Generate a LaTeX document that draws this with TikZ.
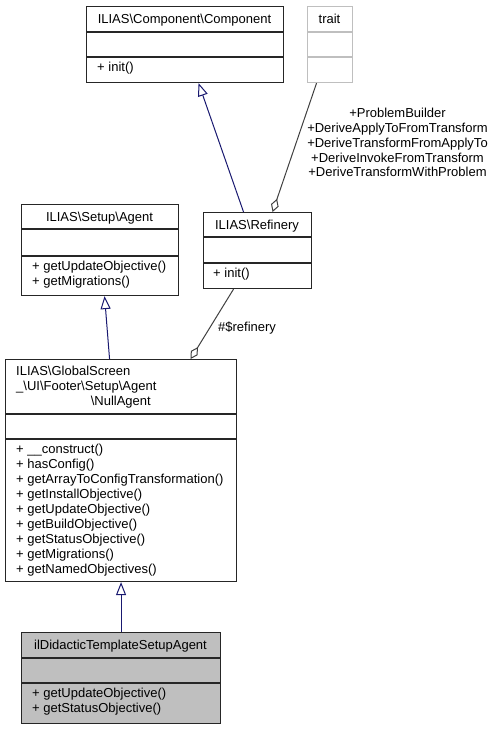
\documentclass[tikz,border=0pt]{standalone}
\usepackage{fontspec}
\setmainfont{Liberation Sans}
\usetikzlibrary{shapes,shapes.multipart,calc,arrows.meta}
\definecolor{edgeblue}{HTML}{191970}
\definecolor{edgegrey}{HTML}{404040}
\definecolor{classgrey}{HTML}{BFBFBF}
\tikzset{
  classbox/.style = {draw=black!85, line width=1.1pt, inner sep=0pt, anchor=north west},
  divider/.style = {draw=black!85, line width=1.1pt},
  classname/.style = {inner sep=0pt, anchor=base, font=\fontsize{13}{15}\selectfont},
  members/.style = {inner sep=0pt, anchor=north west, align=left, font=\fontsize{13}{15}\selectfont},
  inherit/.style = {edgeblue, line width=1pt, -{Triangle[open, length=13pt, width=10pt]}},
  aggreg/.style = {edgegrey, line width=1pt, {Diamond[open, length=14pt, width=8pt]}-},
  edgelabel/.style = {inner sep=0pt, align=center, font=\fontsize{13}{14.75}\selectfont}
}

\begin{document}
\begin{tikzpicture}[x=1pt, y=-1pt]
	\useasboundingbox (0,0) rectangle (495,729);

	% ILIAS\Component\Component
	\node [classbox, minimum width=197pt, minimum height=76pt] (comp) at (86,6) {};
	\draw [divider] ([yshift=-26pt]comp.north west) -- ([yshift=-26pt]comp.north east);
	\draw [divider] ([yshift=-51pt]comp.north west) -- ([yshift=-51pt]comp.north east);
	\node [classname] (comp-name) at (184.5,23) {ILIAS\textbackslash Component\textbackslash Component};
	\node [members] (comp-ops) at (97,61.5) {+ init()};

	% trait
	\node [classbox, draw=classgrey, minimum width=45pt, minimum height=76pt] (trait) at (307,6) {};
	\draw [divider, draw=classgrey] ([yshift=-26pt]trait.north west) -- ([yshift=-26pt]trait.north east);
	\draw [divider, draw=classgrey] ([yshift=-51pt]trait.north west) -- ([yshift=-51pt]trait.north east);
	\node [classname] (trait-name) at (329.5,23) {trait};

	% ILIAS\Refinery
	\node [classbox, minimum width=108pt, minimum height=76pt] (refinery) at (203,212) {};
	\draw [divider] ([yshift=-25pt]refinery.north west) -- ([yshift=-25pt]refinery.north east);
	\draw [divider] ([yshift=-51pt]refinery.north west) -- ([yshift=-51pt]refinery.north east);
	\node [classname] (refinery-name) at (257,229) {ILIAS\textbackslash Refinery};
	\node [members] (refinery-ops) at (213,268) {+ init()};

	% ILIAS\Setup\Agent
	\node [classbox, minimum width=157pt, minimum height=91pt] (agent) at (21,204) {};
	\draw [divider] ([yshift=-25pt]agent.north west) -- ([yshift=-25pt]agent.north east);
	\draw [divider] ([yshift=-52pt]agent.north west) -- ([yshift=-52pt]agent.north east);
	\node [classname] (agent-name) at (99.5,221) {ILIAS\textbackslash Setup\textbackslash Agent};
	\node [members] (agent-ops) at (32,260.5) {+ getUpdateObjective()\\+ getMigrations()};

	% NullAgent
	\node [classbox, minimum width=231pt, minimum height=222pt] (nullagent) at (5,359) {};
	\draw [divider] ([yshift=-55pt]nullagent.north west) -- ([yshift=-55pt]nullagent.north east);
	\draw [divider] ([yshift=-80pt]nullagent.north west) -- ([yshift=-80pt]nullagent.north east);
	\node [members] (nullagent-name) at (16,365.7) {ILIAS\textbackslash GlobalScreen\\\_\textbackslash UI\textbackslash Footer\textbackslash Setup\textbackslash Agent};
	\node [classname, anchor=base east] (nullagent-name2) at (151,405) {\textbackslash NullAgent};
	\node [members] (nullagent-ops) at (16,443.5) {+ \_\_construct()\\+ hasConfig()\\+ getArrayToConfigTransformation()\\+ getInstallObjective()\\+ getUpdateObjective()\\+ getBuildObjective()\\+ getStatusObjective()\\+ getMigrations()\\+ getNamedObjectives()};

	% ilDidacticTemplateSetupAgent
	\node [classbox, fill=classgrey, minimum width=199pt, minimum height=91pt] (ildidactic) at (21,632) {};
	\draw [divider] ([yshift=-26pt]ildidactic.north west) -- ([yshift=-26pt]ildidactic.north east);
	\draw [divider] ([yshift=-51pt]ildidactic.north west) -- ([yshift=-51pt]ildidactic.north east);
	\node [classname] (ildidactic-name) at (120.5,649) {ilDidacticTemplateSetupAgent};
	\node [members] (ildidactic-ops) at (32,688) {+ getUpdateObjective()\\+ getStatusObjective()};

	% relations
	\draw [inherit] ([xshift=-14pt]refinery.north) -- ([xshift=13.5pt]comp.south);
	\draw [aggreg] ([xshift=15pt]refinery.north) -- ([xshift=-13.5pt]trait.south);
	\node [edgelabel, anchor=north] (trait-label) at (397.5,108.2) {+ProblemBuilder\\+DeriveApplyToFromTransform\\+DeriveTransformFromApplyTo\\+DeriveInvokeFromTransform\\+DeriveTransformWithProblem};
	\draw [aggreg] ([xshift=69.5pt]nullagent.north) -- ([xshift=-24pt]refinery.south);
	\node [classname, anchor=base west] (refinery-label) at (218,331) {\#\$refinery};
	\draw [inherit] ([xshift=-11.5pt]nullagent.north) -- ([xshift=4.5pt]agent.south);
	\draw [inherit] (ildidactic.north) -- (nullagent.south);
\end{tikzpicture}
\end{document}
